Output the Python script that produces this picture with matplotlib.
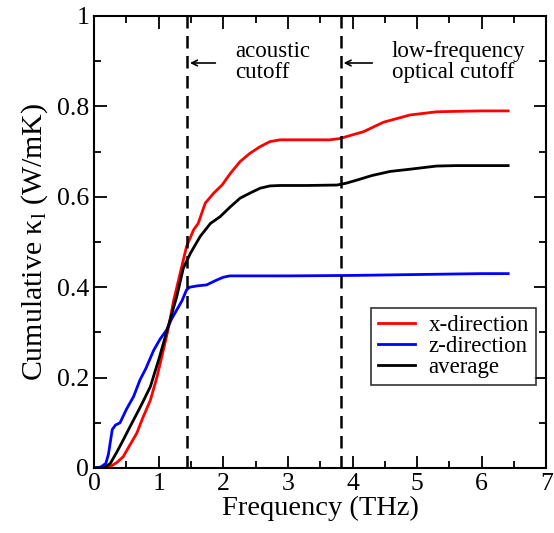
import numpy as np
import matplotlib.pyplot as plt
from matplotlib.ticker import MultipleLocator

plt.rcParams['font.family'] = ['Liberation Serif', 'DejaVu Serif']
plt.rcParams['mathtext.fontset'] = 'stix'

# ---- data ----
x_red = [0, 0.2, 0.25, 0.35, 0.45, 0.55, 0.66, 0.75, 0.87, 0.97, 1.07, 1.15, 1.23, 1.33,
         1.43, 1.54, 1.61, 1.72, 1.85, 1.98, 2.11, 2.26, 2.41, 2.57, 2.72, 2.88, 3.3,
         3.65, 3.81, 3.95, 4.17, 4.48, 4.89, 5.3, 5.6, 6.0, 6.41]
y_red = [0, 0, 0.003, 0.012, 0.025, 0.05, 0.077, 0.11, 0.15, 0.2, 0.26, 0.31, 0.37, 0.43,
         0.49, 0.527, 0.541, 0.586, 0.608, 0.626, 0.652, 0.678, 0.696, 0.711, 0.722,
         0.726, 0.726, 0.726, 0.729, 0.735, 0.744, 0.765, 0.781, 0.788, 0.789, 0.79, 0.79]

x_blue = [0, 0.1, 0.18, 0.22, 0.28, 0.33, 0.4, 0.5, 0.61, 0.71, 0.8, 0.92, 1.02, 1.12,
          1.2, 1.28, 1.36, 1.43, 1.48, 1.6, 1.74, 1.9, 2.0, 2.1, 2.5, 3.0, 4.0, 5.0,
          6.0, 6.41]
y_blue = [0, 0.002, 0.01, 0.03, 0.085, 0.095, 0.1, 0.13, 0.158, 0.195, 0.22, 0.26, 0.285,
          0.305, 0.33, 0.35, 0.37, 0.394, 0.40, 0.403, 0.405, 0.416, 0.422, 0.425, 0.425,
          0.425, 0.426, 0.428, 0.43, 0.43]

x_avg = [0, 0.15, 0.25, 0.35, 0.45, 0.55, 0.66, 0.75, 0.87, 1.0, 1.12, 1.2, 1.28, 1.38,
         1.49, 1.64, 1.8, 1.95, 2.11, 2.26, 2.41, 2.57, 2.72, 2.88, 3.3, 3.76, 3.9, 4.07,
         4.3, 4.58, 4.89, 5.3, 5.6, 6.0, 6.41]
y_avg = [0, 0, 0.01, 0.035, 0.062, 0.09, 0.12, 0.145, 0.18, 0.24, 0.30, 0.34, 0.38, 0.442,
         0.475, 0.512, 0.541, 0.556, 0.578, 0.597, 0.608, 0.619, 0.624, 0.625, 0.625,
         0.626, 0.63, 0.637, 0.647, 0.656, 0.661, 0.668, 0.669, 0.669, 0.669]

acoustic_cutoff = 1.44
optical_cutoff = 3.82

fig = plt.figure(figsize=(5.54, 5.33), dpi=100)
ax = fig.add_axes([0.170, 0.122, 0.816, 0.848])

ax.plot(x_red, y_red, color='red', lw=2, label='x-direction')
ax.plot(x_blue, y_blue, color='blue', lw=2, label='z-direction')
ax.plot(x_avg, y_avg, color='black', lw=2, label='average')

ax.axvline(acoustic_cutoff, color='black', ls=(0, (5, 3)), lw=1.8)
ax.axvline(optical_cutoff, color='black', ls=(0, (5, 3)), lw=1.8)

ax.annotate('', xy=(acoustic_cutoff, 0.896), xytext=(1.92, 0.896),
            arrowprops=dict(arrowstyle='->', color='black', lw=1.2))
ax.annotate('', xy=(optical_cutoff, 0.896), xytext=(4.35, 0.896),
            arrowprops=dict(arrowstyle='->', color='black', lw=1.2))
ax.text(2.18, 0.898, 'acoustic\ncutoff', fontsize=16.5, va='center', ha='left',
        linespacing=1.0)
ax.text(4.61, 0.898, 'low-frequency\noptical cutoff', fontsize=16.5, va='center',
        ha='left', linespacing=1.0)

ax.set_xlim(0, 7)
ax.set_ylim(0, 1)
ax.xaxis.set_major_locator(MultipleLocator(1))
ax.xaxis.set_minor_locator(MultipleLocator(0.5))
ax.yaxis.set_minor_locator(MultipleLocator(0.1))
ax.set_yticks([0, 0.2, 0.4, 0.6, 0.8, 1])
ax.set_yticklabels(['0', '0.2', '0.4', '0.6', '0.8', '1'])
ax.tick_params(which='both', direction='in', top=True, right=True, labelsize=18.5)
ax.tick_params(which='major', length=9, width=1.3)
ax.tick_params(which='minor', length=5, width=1.3)
for s in ax.spines.values():
    s.set_linewidth(1.5)

ax.set_xlabel('Frequency (THz)', fontsize=20.5, labelpad=1)
ax.set_ylabel(r'Cumulative $\mathregular{κ_l}$ (W/mK)', fontsize=21.5, labelpad=5)

leg = ax.legend(loc='lower right', bbox_to_anchor=(0.977, 0.184), fontsize=16.5,
                frameon=True, fancybox=False, edgecolor='black', handlelength=1.6,
                handletextpad=0.6, labelspacing=0.0, borderpad=0.3, borderaxespad=0)
leg.get_frame().set_linewidth(1.2)

fig.savefig('out.png', dpi=100)
